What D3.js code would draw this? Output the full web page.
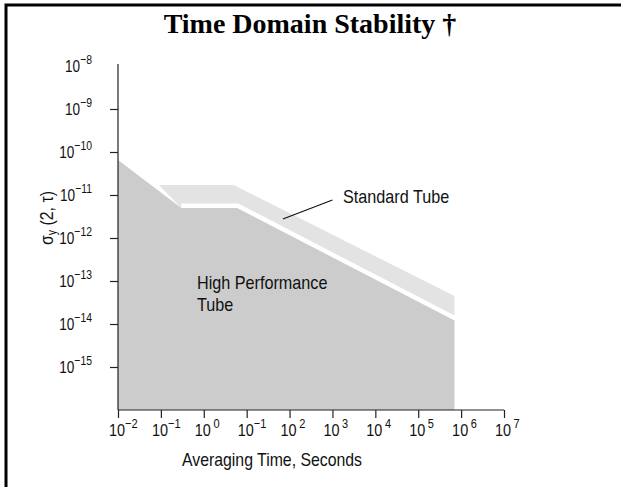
<!DOCTYPE html>
<html>
<head>
<meta charset="utf-8">
<script src="https://cdn.jsdelivr.net/npm/d3@7"></script>
<style>
  body { margin: 0; background: #fff; }
  svg { display: block; }
  .lbl { font-family: "Liberation Sans", Arial, sans-serif; fill: #111; }
</style>
</head>
<body>
<div id="chart"></div>
<script>
// data
const hpTau   = [0.01, 0.3, 6, 7e5];
const hpSigma = [6.5e-11, 5e-12, 5e-12, 1.2e-14];
const stdTau   = [0.09, 5, 7e5];
const stdSigma = [1.7e-11, 1.7e-11, 4.5e-14];

const xTicks = [1e-2, 1e-1, 1e0, 1e1, 1e2, 1e3, 1e4, 1e5, 1e6, 1e7];
const xExp   = ["\u22122", "\u22121", "0", "\u22121", "2", "3", "4", "5", "6", "7"];
const yTicks = [1e-8, 1e-9, 1e-10, 1e-11, 1e-12, 1e-13, 1e-14, 1e-15];
const yExp   = ["\u22128", "\u22129", "\u221210", "\u221211", "\u221212", "\u221213", "\u221214", "\u221215"];

const W = 621, H = 487;
const svg = d3.select("#chart").append("svg").attr("width", W).attr("height", H);

// narrow text helper (squeezed Liberation Sans standing in for a condensed face)
function label(px, py, size, anchor, sx) {
  return svg.append("g").attr("transform", `translate(${px},${py}) scale(${sx || 0.9},1)`)
    .append("text").attr("class", "lbl")
    .attr("text-anchor", anchor || "start")
    .style("font-size", size + "px");
}

// frame
svg.append("path").attr("d", "M6,487 V5 H621")
  .attr("fill", "none").attr("stroke", "#000").attr("stroke-width", 3);

// title
svg.append("text")
  .attr("x", 310).attr("y", 33)
  .attr("text-anchor", "middle")
  .style("font-family", "'Liberation Serif', 'Times New Roman', serif")
  .style("font-weight", "bold").style("font-size", "28px")
  .text("Time Domain Stability \u2020");

const x = d3.scaleLog().domain([1e-2, 1e7]).range([118, 504]);
const y = d3.scaleLog().domain([1e-16, 1e-8]).range([410, 66]);

const hp = hpTau.map((t, i) => [t, hpSigma[i]]);
const std = stdTau.map((t, i) => [t, stdSigma[i]]);
const bottom = y.domain()[0];

// standard tube: top edge, then back along the high performance edge
const stdPoly = std.concat([[hpTau[3], hpSigma[3]], [hpTau[2], hpSigma[2]], [hpTau[1], hpSigma[1]]]);
const hpPoly = hp.concat([[hpTau[3], bottom], [hpTau[0], bottom]]);

const line = d3.line().x(d => x(d[0])).y(d => y(d[1]));

svg.append("path").attr("d", line(stdPoly) + "Z").attr("fill", "#e3e3e3");
svg.append("path").attr("d", line(hp.slice(1)))
  .attr("fill", "none").attr("stroke", "#fff").attr("stroke-width", 9);
svg.append("path").attr("d", line(hpPoly) + "Z").attr("fill", "#cccccc");

// axes
const yAxis = svg.append("g").attr("transform", "translate(118,0)")
  .call(d3.axisLeft(y).tickValues(yTicks.slice(1)).tickSize(8).tickFormat(""));
yAxis.select(".domain").attr("d", `M0,${y(1e-8) - 2}V${y(bottom)}`);
const xAxis = svg.append("g").attr("transform", "translate(0,410)")
  .call(d3.axisBottom(x).tickValues(xTicks).tickSize(8).tickFormat(""));
xAxis.select(".domain").attr("d", `M${x(1e-2)},0H${x(1e7)}`);
svg.selectAll(".domain, .tick line").attr("stroke", "#222").attr("stroke-width", 1.2);

// y tick labels
yTicks.forEach((v, i) => {
  const t = label(92, y(v) + 6, 17, "end", 0.8);
  t.append("tspan").text("10");
  t.append("tspan").attr("dy", -8).style("font-size", "13px").text(yExp[i]);
});

// x tick labels
xTicks.forEach((v, i) => {
  const neg = xExp[i].startsWith("\u2212");
  const t = label(x(v) - 9, 436, 17, "start", 0.85);
  t.append("tspan").text("10");
  t.append("tspan").attr("dx", neg ? 0 : 3).attr("dy", -8).style("font-size", "13px").text(xExp[i]);
});

// axis titles
label(272, 466, 18, "middle", 0.88).text("Averaging Time, Seconds");

const yt = svg.append("g").attr("transform", "translate(53,218) rotate(-90) scale(0.88,1)")
  .append("text").attr("class", "lbl")
  .attr("text-anchor", "middle").style("font-size", "18px");
yt.append("tspan").text("\u03c3");
yt.append("tspan").attr("dy", 3).style("font-size", "12px").text("y");
yt.append("tspan").attr("dy", -3).text(" (2, \u03c4)");

// annotations
svg.append("line")
  .attr("x1", x(70)).attr("y1", 219).attr("x2", x(1e3)).attr("y2", 200)
  .attr("stroke", "#111").attr("stroke-width", 1.2);
label(343, 203, 18).text("Standard Tube");
label(197, 289, 18).text("High Performance");
label(197, 311, 18).text("Tube");
</script>
</body>
</html>
